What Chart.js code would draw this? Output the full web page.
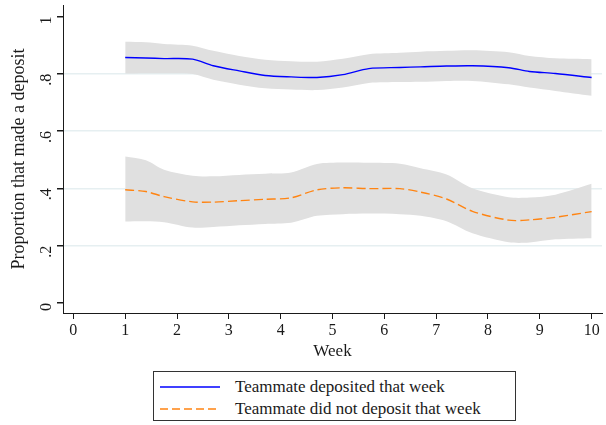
<!DOCTYPE html>
<html>
<head>
<meta charset="utf-8">
<script src="https://cdn.jsdelivr.net/npm/chart.js@4.4.1/dist/chart.umd.min.js"></script>
<style>
  body { margin: 0; background: #fff; }
  #wrap { position: relative; width: 606px; height: 425px; }
  #plot { position: absolute; left: 0; top: 0; width: 606px; height: 362px; }
  #legend {
    position: absolute; left: 153px; top: 371px; width: 363px; height: 50px;
    border: 1px solid #333; box-sizing: border-box;
    font-family: 'Liberation Serif', serif; font-size: 17px; color: #1a1a1a;
  }
  .row { position: absolute; left: 0; width: 100%; height: 20px; line-height: 20px; white-space: nowrap; }
  .row svg { position: absolute; left: 6px; top: 4px; }
  .txt { position: absolute; left: 81px; top: 0; }
</style>
</head>
<body>
<div id="wrap">
  <div id="plot"><canvas id="c"></canvas></div>
  <div id="legend"></div>
</div>
<script>
// --- DATA ---
const weeks = [1, 1.4, 1.75, 2.3, 2.7, 3.2, 3.7, 4.2, 4.7, 5.2, 5.7, 6.3, 6.7, 7.2, 7.7, 8.4, 8.8, 9.3, 10];

const depMean  = [0.857, 0.855, 0.853, 0.851, 0.828, 0.810, 0.794, 0.789, 0.787, 0.797, 0.818, 0.822, 0.824, 0.827, 0.828, 0.821, 0.808, 0.801, 0.787];
const depUpper = [0.912, 0.910, 0.904, 0.898, 0.880, 0.862, 0.849, 0.844, 0.842, 0.852, 0.868, 0.873, 0.877, 0.880, 0.882, 0.875, 0.862, 0.854, 0.851];
const depLower = [0.801, 0.802, 0.802, 0.799, 0.779, 0.762, 0.749, 0.745, 0.743, 0.752, 0.768, 0.771, 0.772, 0.775, 0.775, 0.763, 0.752, 0.740, 0.723];

const noMean  = [0.395, 0.389, 0.371, 0.353, 0.352, 0.357, 0.362, 0.367, 0.395, 0.402, 0.399, 0.399, 0.387, 0.363, 0.320, 0.289, 0.290, 0.299, 0.319];
const noUpper = [0.511, 0.498, 0.465, 0.444, 0.442, 0.447, 0.451, 0.455, 0.485, 0.490, 0.489, 0.486, 0.470, 0.448, 0.400, 0.369, 0.368, 0.378, 0.416];
const noLower = [0.284, 0.285, 0.282, 0.263, 0.265, 0.271, 0.276, 0.280, 0.304, 0.310, 0.312, 0.310, 0.304, 0.285, 0.243, 0.212, 0.211, 0.222, 0.226];

const xTicks = [0, 1, 2, 3, 4, 5, 6, 7, 8, 9, 10];
const yTicks = [0, 0.2, 0.4, 0.6, 0.8, 1];

const seriesLabels = ['Teammate deposited that week', 'Teammate did not deposit that week'];
const seriesColors = ['#0000ff', '#ff8412'];

const pts = arr => weeks.map((w, i) => ({ x: w, y: arr[i] }));
const font = "'Liberation Serif', serif";
const ink = '#1a1a1a';
const band = '#e0e0e0';

const lineDs = (label, arr, color, dash) => ({
  label, data: pts(arr), borderColor: color, borderWidth: 1.4, borderDash: dash,
  pointRadius: 0, tension: 0.3, fill: false
});
const bandDs = (arr, fill) => ({
  data: pts(arr), borderWidth: 0, borderColor: 'transparent', backgroundColor: band,
  pointRadius: 0, tension: 0.3, fill
});

new Chart(document.getElementById('c'), {
  type: 'line',
  data: {
    datasets: [
      lineDs(seriesLabels[0], depMean, seriesColors[0], []),
      lineDs(seriesLabels[1], noMean, seriesColors[1], [9, 4]),
      bandDs(depUpper, '+1'),
      bandDs(depLower, false),
      bandDs(noUpper, '+1'),
      bandDs(noLower, false)
    ]
  },
  options: {
    responsive: true,
    maintainAspectRatio: false,
    animation: false,
    layout: { padding: { top: 5, right: 4, left: 0, bottom: 0 } },
    plugins: { legend: { display: false }, tooltip: { enabled: false } },
    scales: {
      x: {
        type: 'linear', min: -0.2, max: 10.2,
        afterBuildTicks: s => { s.ticks = xTicks.map(v => ({ value: v })); },
        afterFit: s => { s.height = 49; s.paddingLeft = 0; s.paddingRight = 0; },
        grid: { display: true, drawOnChartArea: false, tickLength: 6, tickColor: ink },
        border: { color: ink, width: 1 },
        ticks: { color: ink, font: { family: font, size: 16 }, padding: 2, maxRotation: 0 },
        title: { display: true, text: 'Week', color: ink, font: { family: font, size: 17 }, padding: { top: 0, bottom: 0 } }
      },
      y: {
        min: -0.035, max: 1.04,
        afterBuildTicks: s => { s.ticks = yTicks.map(v => ({ value: v })); },
        afterFit: s => { s.width = 63; s.paddingTop = 0; s.paddingBottom = 0; },
        grid: {
          color: c => (c.tick && c.tick.value > 0.01 && c.tick.value < 0.99) ? '#e6eff1' : 'rgba(0,0,0,0)',
          lineWidth: 1.5, tickLength: 6, tickColor: ink
        },
        border: { color: ink, width: 1 },
        ticks: {
          color: ink, font: { family: font, size: 16 }, padding: 10,
          minRotation: 90, maxRotation: 90,
          callback: v => v === 0 ? '0' : v === 1 ? '1' : String(+v.toFixed(1)).replace(/^0\./, '.')
        },
        title: { display: true, text: 'Proportion that made a deposit', color: ink, font: { family: font, size: 18 }, padding: { top: 8, bottom: 0 } }
      }
    }
  }
});

// legend as html rows with svg line samples
const legend = document.getElementById('legend');
seriesLabels.forEach((label, i) => {
  const row = document.createElement('div');
  row.className = 'row';
  row.style.top = (i === 0 ? 5 : 27) + 'px';
  const dash = i === 1 ? ' stroke-dasharray="8 4"' : '';
  row.innerHTML = '<svg width="60" height="12"><line x1="0" y1="6" x2="60" y2="6" stroke="' + seriesColors[i] +
    '" stroke-width="1.5"' + dash + '/></svg>';
  const tx = document.createElement('div');
  tx.className = 'txt';
  tx.textContent = label;
  row.appendChild(tx);
  legend.appendChild(row);
});
</script>
</body>
</html>
